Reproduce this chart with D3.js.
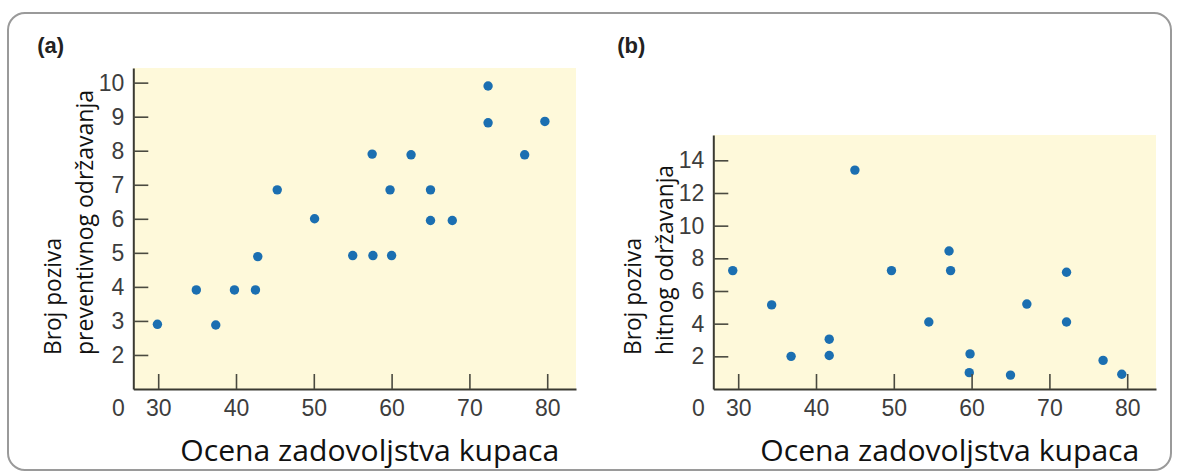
<!DOCTYPE html>
<html>
<head>
<meta charset="utf-8">
<script src="https://cdn.jsdelivr.net/npm/d3@7/dist/d3.min.js"></script>
<style>
  html, body { margin: 0; padding: 0; background: #fff; }
  svg { display: block; }
</style>
</head>
<body>
<svg id="chart" width="1177" height="473"></svg>
<script>
// ---- Data ----
const panelLabels = ["(a)", "(b)"];
const xTitle = "Ocena zadovoljstva kupaca";
const yTitleA = ["Broj poziva", "preventivnog održavanja"];
const yTitleB = ["Broj poziva", "hitnog održavanja"];

const xTicks = [30, 40, 50, 60, 70, 80];
const yTicksA = [2, 3, 4, 5, 6, 7, 8, 9, 10];
const yTicksB = [2, 4, 6, 8, 10, 12, 14];

const xA = [72.4, 72.4, 79.7, 57.5, 62.5, 77.1, 45.3, 59.8, 65.0, 50.1, 65.0, 67.8, 29.9, 34.9, 37.4, 39.8, 42.5, 42.8, 55.0, 57.6, 60.0];
const yA = [9.9, 8.82, 8.86, 7.9, 7.88, 7.88, 6.85, 6.85, 6.85, 6.0, 5.95, 5.95, 2.9, 3.91, 2.88, 3.91, 3.91, 4.89, 4.92, 4.92, 4.92];

const xB = [29.3, 34.3, 36.8, 41.7, 41.7, 45.0, 49.7, 54.5, 57.1, 57.3, 59.8, 59.7, 65.0, 67.1, 72.2, 72.2, 76.9, 79.3];
const yB = [7.25, 5.15, 2.0, 3.05, 2.05, 13.4, 7.25, 4.1, 8.45, 7.25, 2.15, 1.0, 0.85, 5.2, 7.15, 4.1, 1.75, 0.9];

// ---- Drawing ----
const svg = d3.select("#chart");

svg.append("rect")
  .attr("x", 8).attr("y", 13)
  .attr("width", 1163).attr("height", 457)
  .attr("rx", 17).attr("ry", 17)
  .attr("fill", "#fff")
  .attr("stroke", "#9a9a9a")
  .attr("stroke-width", 2);

const fontNum = "'Liberation Sans', Arial, Helvetica, sans-serif";
const fontTitle = "'Open Sans', 'Noto Sans', sans-serif";

function panel(opts) {
  const { left, right, top, bottom, xDomain, yDomain, yTicks, xs, ys, yTitle, yTitleLens, label } = opts;
  const x = d3.scaleLinear().domain(xDomain).range([left, right]);
  const y = d3.scaleLinear().domain(yDomain).range([bottom, top]);
  const g = svg.append("g");

  g.append("rect")
    .attr("x", left).attr("y", top)
    .attr("width", right - left).attr("height", bottom - top)
    .attr("fill", "#fef9da");

  // dots
  g.selectAll("circle.dot")
    .data(xs.map((v, i) => [v, ys[i]]))
    .join("circle")
    .attr("class", "dot")
    .attr("cx", d => x(d[0]))
    .attr("cy", d => y(d[1]))
    .attr("r", 4.7)
    .attr("fill", "#1b6fb1");

  // y axis
  const ya = g.append("g")
    .attr("transform", `translate(${left},0)`)
    .call(d3.axisLeft(y).tickValues(yTicks).tickSize(-15).tickSizeOuter(0).tickPadding(9).tickFormat(d3.format("d")));
  // x axis
  const xa = g.append("g")
    .attr("transform", `translate(0,${bottom})`)
    .call(d3.axisBottom(x).tickValues(xTicks).tickSize(-15).tickSizeOuter(0).tickPadding(11).tickFormat(d3.format("d")));

  [ya, xa].forEach(a => {
    a.attr("font-family", fontNum).attr("font-size", 23);
    a.select(".domain").attr("stroke", "#3a3a32").attr("stroke-width", 2);
    a.selectAll(".tick line").attr("stroke", "#4a4a40").attr("stroke-width", 1.6);
    a.selectAll(".tick text").attr("fill", "#3d3d3d");
  });

  // broken-axis "0"
  g.append("text")
    .attr("x", left - 15).attr("y", bottom + 11)
    .attr("dy", "0.71em")
    .attr("text-anchor", "middle")
    .attr("font-family", fontNum).attr("font-size", 23)
    .attr("fill", "#3d3d3d")
    .text("0");

  // x title
  g.append("text")
    .attr("x", left + 47).attr("y", 461)
    .attr("font-family", fontTitle).attr("font-size", 29)
    .attr("textLength", 379).attr("lengthAdjust", "spacingAndGlyphs")
    .attr("fill", "#111")
    .text(xTitle);

  // y titles (rotated)
  const yBase = [left - 72.5, left - 40.3];
  yTitle.forEach((t, i) => {
    g.append("text")
      .attr("transform", `translate(${yBase[i]},355) rotate(-90)`)
      .attr("font-family", fontTitle).attr("font-size", 23)
      .attr("textLength", yTitleLens[i]).attr("lengthAdjust", "spacingAndGlyphs")
      .attr("fill", "#111")
      .text(t);
  });

  // panel label
  g.append("text")
    .attr("x", left - 96).attr("y", 53)
    .attr("font-family", fontNum).attr("font-size", 22).attr("font-weight", "bold")
    .attr("fill", "#222")
    .text(label);
}

panel({
  left: 133.3, right: 576, top: 68, bottom: 389,
  xDomain: [26.8, 83.7], yDomain: [1, 10.43],
  yTicks: yTicksA, xs: xA, ys: yA,
  yTitle: yTitleA, yTitleLens: [117, 265], label: panelLabels[0]
});

panel({
  left: 713.3, right: 1156, top: 135, bottom: 389,
  xDomain: [26.8, 83.7], yDomain: [0, 15.55],
  yTicks: yTicksB, xs: xB, ys: yB,
  yTitle: yTitleB, yTitleLens: [117, 190], label: panelLabels[1]
});
</script>
</body>
</html>
